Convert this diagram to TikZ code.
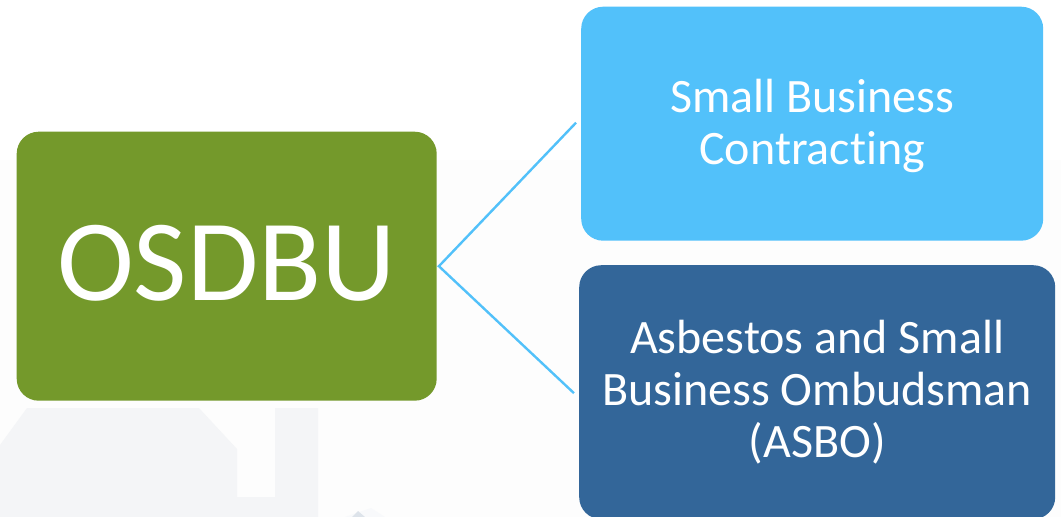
\documentclass[tikz,border=0pt]{standalone}
\usepackage{fontspec}
\setmainfont{Carlito}[Ligatures=NoCommon]
\definecolor{grn}{HTML}{74992B}
\definecolor{lblue}{HTML}{52C1FA}
\definecolor{dblue}{HTML}{336699}
\definecolor{wash}{HTML}{FDFDFD}
\definecolor{house}{HTML}{F4F5F7}
\definecolor{peak}{HTML}{F8F9FB}
\definecolor{peakdark}{HTML}{DDE3EA}
\tikzset{
  box/.style={draw=none,rounded corners=22pt,text=white,align=center,anchor=north west,inner sep=0pt},
  link/.style={draw=lblue,line width=2.4pt},
}
\begin{document}
\begin{tikzpicture}[x=1pt,y=-1pt]
\useasboundingbox (0,0) rectangle (1061,517);
\fill[white] (0,0) rectangle (1061,517);
\fill[wash] (0,160) rectangle (1061,517);
\fill[house] (0,517) -- (0,445) -- (27,408) -- (199,408) -- (237,449) -- (237,497) -- (275,497) -- (275,408) -- (318,408) -- (318,517) -- cycle;
\fill[peak] (345,517) -- (371,508) -- (385,517) -- cycle;
\fill[peakdark] (352,517) -- (358,511) -- (365,517) -- cycle;
\node[box,fill=grn,minimum width=420pt,minimum height=269pt,font=\fontsize{116}{120}\selectfont] (o) at (16.5,131.5) {\raisebox{3pt}[\height][\depth]{OSDBU}};
\node[box,fill=lblue,minimum width=462pt,minimum height=234pt,font=\fontsize{48}{52}\selectfont] (s) at (581,6.5) {\raisebox{-4pt}[\height][\depth]{\begin{tabular}{@{}c@{}}Small Business\\Contracting\end{tabular}}};
\node[box,fill=dblue,minimum width=476pt,minimum height=254pt,font=\fontsize{48}{52}\selectfont] (a) at (579,265) {Asbestos and Small\\Business Ombudsman\\(ASBO)};
\coordinate (j) at ([xshift=2pt]o.east);
\coordinate (sl) at ([xshift=-5pt,yshift=1pt]s.west);
\coordinate (al) at ([xshift=-5pt,yshift=-1pt]a.west);
\draw[link] (sl) -- (j) -- (al);
\end{tikzpicture}
\end{document}
